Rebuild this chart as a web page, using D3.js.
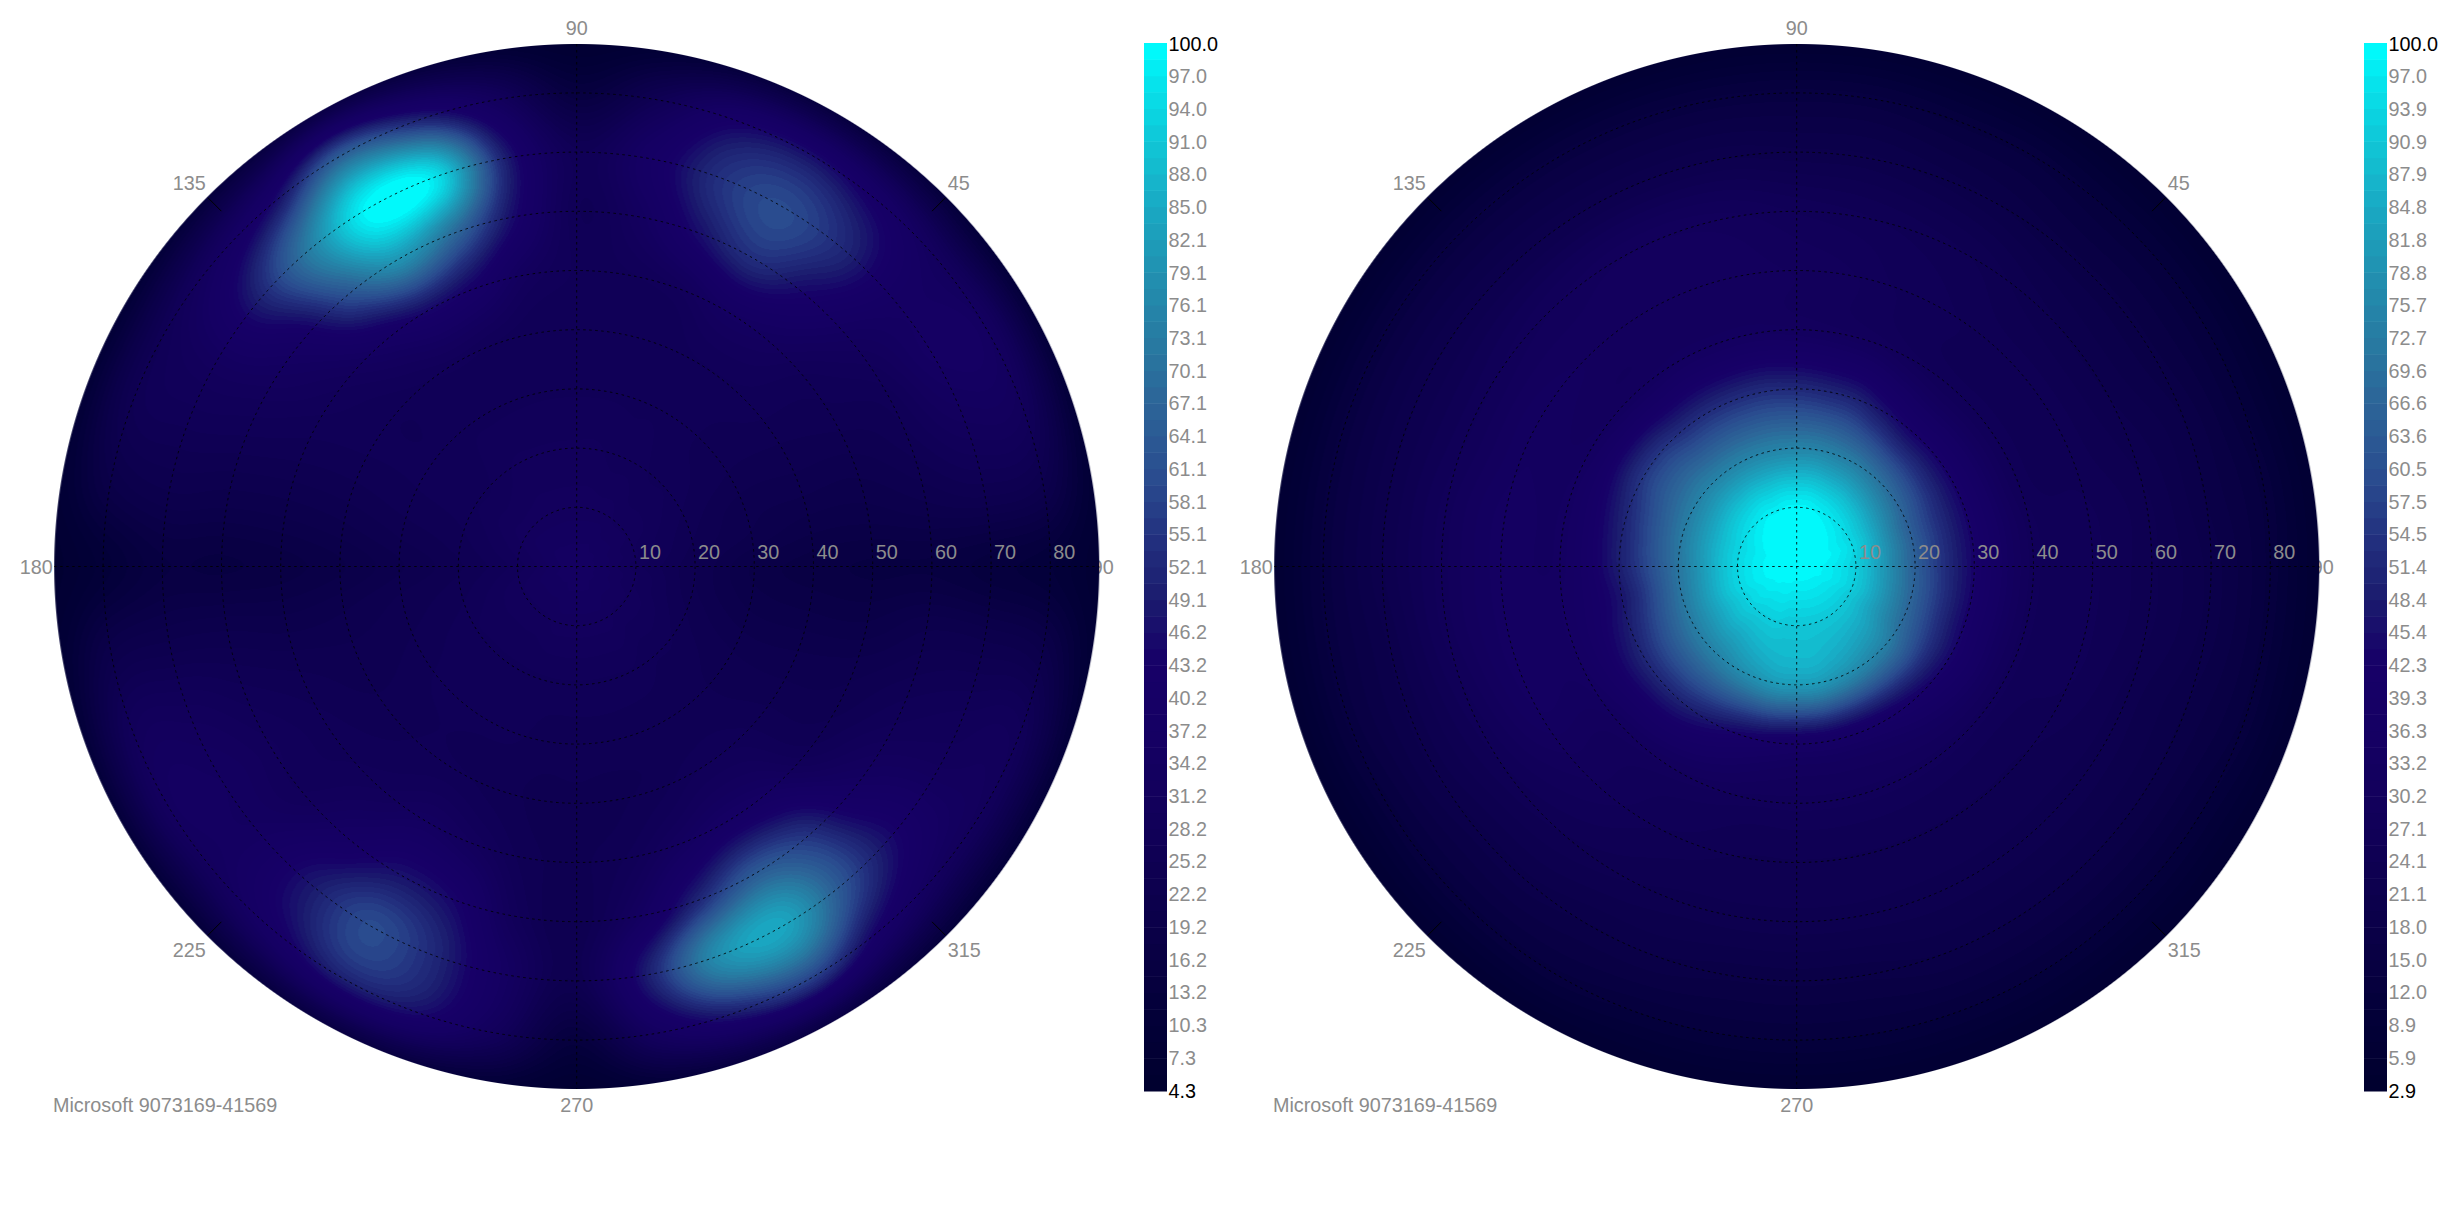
<!DOCTYPE html>
<html>
<head>
<meta charset="utf-8">
<title>Polar intensity maps</title>
<script src="https://cdn.jsdelivr.net/npm/d3@7"></script>
<style>
  html, body { margin: 0; padding: 0; background: #fff; }
  svg { display: block; }
  text { font-family: "Liberation Sans", Arial, sans-serif; font-size: 19.8px; fill: #8c8c8c; }
</style>
</head>
<body>
<svg id="chart" width="2440" height="1220"></svg>
<script>
// Intensity per polar-angle ring (0..90 deg), one value per 10 deg of azimuth starting at 0.
const leftRing00 = [35,35,35,35,35,35,35,35,35,35,35,35,35,35,35,35,35,35,35,35,35,35,35,35,35,35,35,35,35,35,35,35,35,35,35,35];
const leftRing10 = [29,30,30,31,31,31,32,32,32,32,32,32,32,32,32,32,31,30,29,30,31,31,31,31,31,32,32,32,32,32,32,31,31,31,30,30];
const leftRing20 = [24,25,26,27,28,28,29,29,30,30,30,30,30,29,28,28,27,26,25,26,27,28,28,28,28,28,28,28,28,28,28,27,27,26,25,24];
const leftRing30 = [19,22,23,25,26,27,28,28,28,28,28,28,28,28,27,27,26,24,22,24,25,26,27,27,27,27,26,26,26,26,26,26,25,24,22,20];
const leftRing40 = [17,20,23,25,27,28,28,27,27,27,27,28,29,28,27,27,25,22,19,22,24,25,26,27,27,26,25,25,25,26,28,28,26,24,22,19];
const leftRing50 = [16,20,23,26,28,33,35,30,28,28,32,42,45,38,31,28,25,21,17,21,25,27,28,30,34,31,26,25,27,33,38,36,28,25,23,19];
const leftRing60 = [16,22,26,28,33,44,54,46,33,27,45,68,80,62,40,31,26,21,16,22,27,30,30,38,47,44,29,24,34,52,64,56,38,30,26,22];
const leftRing70 = [14,24,31,36,37,52,60,54,38,27,50,96,100,74,50,33,27,22,16,22,30,34,35,48,60,52,35,24,50,78,84,62,44,32,28,22];
const leftRing80 = [12,22,30,34,32,40,46,42,26,15,32,52,65,45,34,27,25,19,11,20,29,33,32,40,50,46,30,14,34,50,58,42,32,30,28,20];
const leftRing90 = [7,8,9,9,9,10,10,10,8,6,8,10,11,10,9,8,8,8,6,8,9,9,9,10,11,11,9,6,9,11,11,10,9,9,9,8];

const rightRing00 = [100,100,100,100,100,100,100,100,100,100,100,100,100,100,100,100,100,100,100,100,100,100,100,100,100,100,100,100,100,100,100,100,100,100,100,100];
const rightRing10 = [92,93,94,94,95,96,97,98,99,99,99,98,98,97,96,95,94,94,94,94,94,93,93,92,92,92,91,91,91,91,91,91,91,91,92,92];
const rightRing20 = [65,65,65,67,69,71,73,74,75,75,75,75,75,75,75,74,73,72,71,71,72,73,74,75,77,79,81,81,81,79,77,75,73,69,67,66];
const rightRing30 = [43,43,43,43,43,43,46,50,51,52,53,53,53,53,55,55,52,50,49,47,49,51,51,50,47,43,40,38,38,38,39,41,43,44,43,43];
const rightRing40 = [28,28,27,27,27,27,28,30,31,32,33,33,33,32,32,33,34,34,34,35,35,34,32,31,30,29,28,28,28,28,28,28,28,28,28,28];
const rightRing50 = [26,26,25,25,25,25,26,27,29,30,31,31,31,31,32,33,33,34,34,34,34,33,30,28,26,25,24,24,24,24,24,24,24,25,26,26];
const rightRing60 = [23,23,22,21,21,22,24,25,26,27,29,30,30,29,28,27,27,28,28,28,27,26,25,24,23,22,22,22,22,22,22,22,22,22,22,23];
const rightRing70 = [19,18,18,17,17,17,18,19,20,20,21,21,21,21,21,21,21,21,21,20,20,20,19,19,18,18,17,17,17,18,18,18,18,18,18,19];
const rightRing80 = [13,13,12,12,12,12,13,13,14,14,14,14,14,14,14,14,14,14,14,14,14,13,13,13,13,12,12,12,12,12,12,12,12,12,13,13];
const rightRing90 = [5,5,5,5,5,5,5,5,5,5,5,5,5,5,5,5,5,5,5,5,5,5,5,5,5,5,5,5,5,5,5,5,5,5,5,5];

const leftTicks = ["100.0","97.0","94.0","91.0","88.0","85.0","82.1","79.1","76.1","73.1","70.1","67.1","64.1","61.1","58.1","55.1","52.1","49.1","46.2","43.2","40.2","37.2","34.2","31.2","28.2","25.2","22.2","19.2","16.2","13.2","10.3","7.3","4.3"];
const rightTicks = ["100.0","97.0","93.9","90.9","87.9","84.8","81.8","78.8","75.7","72.7","69.6","66.6","63.6","60.5","57.5","54.5","51.4","48.4","45.4","42.3","39.3","36.3","33.2","30.2","27.1","24.1","21.1","18.0","15.0","12.0","8.9","5.9","2.9"];
const polarTicks = [10,20,30,40,50,60,70,80];
const diagonalLabels = [
  { az: 45, text: "45", dx: 371, dy: -376.5, anchor: "start" },
  { az: 135, text: "135", dx: -371, dy: -376.5, anchor: "end" },
  { az: 225, text: "225", dx: -371, dy: 390.5, anchor: "end" },
  { az: 315, text: "315", dx: 371, dy: 390.5, anchor: "start" }
];
const caption = "Microsoft 9073169-41569";

// Colour ramp, positions given as a fraction of each map's value range.
const rampStops = [0, 0.07, 0.16, 0.25, 0.34, 0.41, 0.47, 0.53, 0.59, 0.66, 0.72, 0.78, 0.84, 0.91, 0.97, 1];
const rampColors = ["#00002e","#030038","#0b0049","#110058","#150063","#170068","#1b1b6e","#233280","#2a4e90","#2c6698","#277ca3","#2190b0","#1aa8c2","#0fc8d8","#04e8f0","#00ffff"];
const colourLevels = 64;

const panels = [
  { cx: 576.7, min: 4.3, max: 100, ticks: leftTicks, barX: 1144,
    rings: [leftRing00,leftRing10,leftRing20,leftRing30,leftRing40,leftRing50,leftRing60,leftRing70,leftRing80,leftRing90] },
  { cx: 1796.7, min: 2.9, max: 100, ticks: rightTicks, barX: 2364,
    rings: [rightRing00,rightRing10,rightRing20,rightRing30,rightRing40,rightRing50,rightRing60,rightRing70,rightRing80,rightRing90] }
];

const cy = 566.5;
const discRadius = 522.5;
const radius = d3.scaleLinear().domain([0, 90]).range([0, 532.8]);
const ringStep = 10;
const azStep = 10;

function catmull(a, b, c, d, t) {
  return b + 0.5 * t * (c - a + t * (2 * a - 5 * b + 4 * c - d + t * (3 * (b - c) + d - a)));
}

// Smooth lookup in the ring table; the azimuth wraps around, the polar angle clamps.
function sample(rings, az, theta) {
  const n = rings.length, m = rings[0].length;
  const u = az / azStep, v = theta / ringStep;
  const j = Math.floor(u), i = Math.min(Math.floor(v), n - 2);
  const tu = u - j, tv = v - i;
  const rows = [i - 1, i, i + 1, i + 2].map(k => {
    // Rows past the pole continue on the opposite azimuth.
    const flip = k < 0;
    const r = rings[Math.min(Math.abs(k), n - 1)];
    const off = flip ? m / 2 : 0;
    const at = q => r[((j + q + off) % m + m) % m];
    return catmull(at(-1), at(0), at(1), at(2), tu);
  });
  return catmull(rows[0], rows[1], rows[2], rows[3], tv);
}

const svg = d3.select("#chart");

panels.forEach(p => {
  const g = svg.append("g");
  const span = p.max - p.min;
  const colourAt = d3.scaleLinear()
    .domain(rampStops.map(f => p.min + f * span))
    .range(rampColors)
    .interpolate(d3.interpolateRgb);
  const levels = d3.range(colourLevels).map(k => colourAt(p.min + (k + 0.5) / colourLevels * span));
  const colour = d3.scaleQuantize().domain([p.min, p.max]).range(levels);
  const levelRgb = new Map(levels.map(c => [c, d3.rgb(c)]));

  // The last polar label sits under the disc, which hides its first digit.
  g.append("text").attr("x", p.cx + 515).attr("y", cy + 7).text("90");

  // Rasterise the field into a canvas and place it as an image.
  const size = Math.ceil(discRadius * 2) + 4;
  const canvas = document.createElement("canvas");
  canvas.width = canvas.height = size;
  const ctx = canvas.getContext("2d");
  const img = ctx.createImageData(size, size);
  const half = size / 2;
  for (let y = 0; y < size; y++) {
    for (let x = 0; x < size; x++) {
      const dx = x + 0.5 - half, dy = half - (y + 0.5);
      const r = Math.hypot(dx, dy);
      if (r > discRadius + 1) continue;
      let az = Math.atan2(dy, dx) * 180 / Math.PI;
      if (az < 0) az += 360;
      const v = sample(p.rings, az, radius.invert(r));
      const c = levelRgb.get(colour(Math.max(p.min, Math.min(p.max, v))));
      const o = (y * size + x) * 4;
      img.data[o] = c.r; img.data[o + 1] = c.g; img.data[o + 2] = c.b;
      img.data[o + 3] = Math.round(255 * Math.max(0, Math.min(1, discRadius + 0.5 - r)));
    }
  }
  ctx.putImageData(img, 0, 0);
  g.append("image")
    .attr("x", p.cx - half).attr("y", cy - half)
    .attr("width", size).attr("height", size)
    .attr("href", canvas.toDataURL());

  // Dashed polar grid.
  const grid = g.append("g").attr("fill", "none").attr("stroke", "#000").attr("stroke-opacity", 0.85)
    .attr("stroke-width", 1).attr("stroke-dasharray", "2.5,3.5");
  grid.selectAll("circle").data(polarTicks).join("circle")
    .attr("cx", p.cx).attr("cy", cy).attr("r", d => radius(d));
  grid.append("line").attr("x1", p.cx - discRadius).attr("x2", p.cx + discRadius).attr("y1", cy).attr("y2", cy);
  grid.append("line").attr("x1", p.cx).attr("x2", p.cx).attr("y1", cy - discRadius).attr("y2", cy + discRadius);

  // Short ticks on the diagonals at the rim.
  g.selectAll(".rim").data(diagonalLabels).join("line").attr("class", "rim")
    .attr("stroke", "#000").attr("stroke-width", 1)
    .attr("x1", d => p.cx + (discRadius - 1) * Math.cos(d.az * Math.PI / 180))
    .attr("y1", d => cy - (discRadius - 1) * Math.sin(d.az * Math.PI / 180))
    .attr("x2", d => p.cx + (discRadius - 20) * Math.cos(d.az * Math.PI / 180))
    .attr("y2", d => cy - (discRadius - 20) * Math.sin(d.az * Math.PI / 180));

  // Polar-angle labels along the horizontal axis.
  g.selectAll(".polar").data(polarTicks).join("text").attr("class", "polar")
    .attr("x", d => p.cx + radius(d) + 3).attr("y", cy - 7.5).text(d => d);

  // Azimuth labels.
  g.selectAll(".diag").data(diagonalLabels).join("text").attr("class", "diag")
    .attr("x", d => p.cx + d.dx).attr("y", d => cy + d.dy)
    .attr("text-anchor", d => d.anchor).text(d => d.text);
  g.append("text").attr("x", p.cx).attr("y", 35).attr("text-anchor", "middle").text("90");
  g.append("text").attr("x", p.cx).attr("y", 1112).attr("text-anchor", "middle").text("270");
  g.append("text").attr("x", p.cx - 524).attr("y", cy + 7.5).attr("text-anchor", "end").text("180");
  g.append("text").attr("x", p.cx - 523.7).attr("y", 1112).text(caption);

  // Colour bar, one band per colour level.
  const barY = d3.scaleLinear().domain([p.min, p.max]).range([1091, 43]);
  g.selectAll(".band").data(levels).join("rect").attr("class", "band")
    .attr("x", p.barX).attr("width", 23)
    .attr("y", (d, k) => barY(p.min + (k + 1) / colourLevels * span))
    .attr("height", (d, k) => barY(p.min + k / colourLevels * span) - barY(p.min + (k + 1) / colourLevels * span) + 0.5)
    .attr("fill", d => d);

  // Colour bar labels: the two ends are black.
  const labelY = d3.scalePoint().domain(p.ticks).range([43, 1090]);
  g.selectAll(".tick").data(p.ticks).join("text").attr("class", "tick")
    .attr("x", p.barX + 24.5).attr("y", d => labelY(d) + 7.5)
    .style("fill", (d, k) => (k === 0 || k === p.ticks.length - 1) ? "#000" : null)
    .text(d => d);
});
</script>
</body>
</html>
